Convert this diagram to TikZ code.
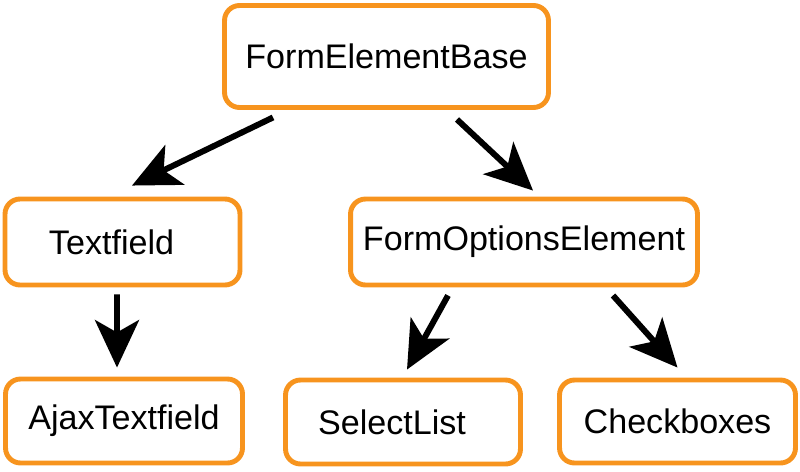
\documentclass[tikz,border=0pt]{standalone}
\usepackage{fontspec}
\setmainfont{Liberation Sans}
\usepackage{tikz}
\usetikzlibrary{arrows.meta}
\definecolor{boxorange}{RGB}{247,148,30}

\begin{document}
\begin{tikzpicture}[
  x=0.02cm,y=-0.02cm,
  cls/.style={rectangle,rounded corners=0.3cm,draw=boxorange,fill=white,line width=2.8pt,
              inner sep=0pt,minimum height=1.7cm,font=\fontsize{19.4}{23}\selectfont},
  arr/.style={line width=3.4pt,black,-{Stealth[length=27pt,width=25pt,inset=7pt]}}
]
  \useasboundingbox (0,0) rectangle (800,471);
  % class boxes
  \node[cls,minimum width=6.48cm,minimum height=2.04cm] (base) at (386.5,56.5) {FormElementBase};
  \node[cls,minimum width=4.7cm,minimum height=1.72cm] (text) at (122.5,242) {Textfield\hspace*{0.44cm}};
  \node[cls,minimum width=6.94cm,minimum height=1.72cm] (opts) at (524,242) {FormOptionsElement};
  \node[cls,minimum width=4.74cm,minimum height=1.68cm] (ajax) at (124,421) {AjaxTextfield};
  \node[cls,minimum width=4.7cm,minimum height=1.68cm] (select) at (403,422) {SelectList\hspace*{0.44cm}};
  \node[cls,minimum width=4.72cm,minimum height=1.66cm] (check) at (677.5,421.5) {Checkboxes};
  % inheritance arrows
  \draw[arr] ([xshift=-2.27cm,yshift=-0.15cm]base.south) -- ([xshift=0.19cm,yshift=0.22cm]text.north);
  \draw[arr] ([xshift=1.41cm,yshift=-0.19cm]base.south) -- ([xshift=0.18cm,yshift=0.12cm]opts.north);
  \draw[arr] ([xshift=-0.11cm,yshift=-0.14cm]text.south) -- ([xshift=-0.14cm,yshift=0.18cm]ajax.north);
  \draw[arr] ([xshift=-1.52cm,yshift=-0.16cm]opts.south) -- ([xshift=0.08cm,yshift=0.16cm]select.north);
  \draw[arr] ([xshift=1.78cm,yshift=-0.16cm]opts.south) -- ([yshift=0.2cm]check.north);
\end{tikzpicture}
\end{document}
